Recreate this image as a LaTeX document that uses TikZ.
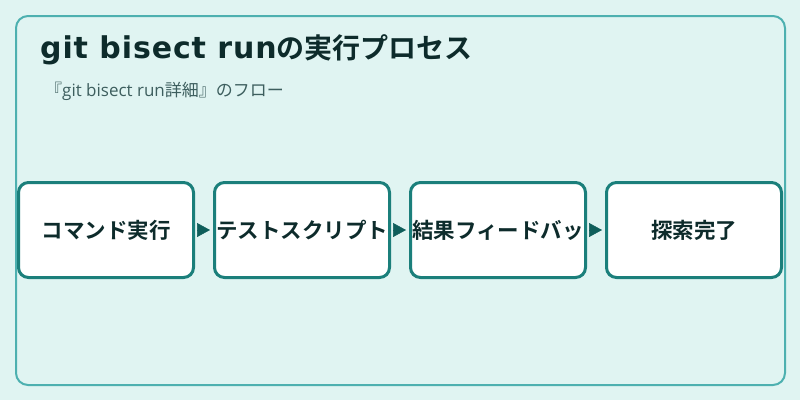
\documentclass[tikz,border=0pt]{standalone}
\usepackage{fontspec}
\setmainfont{Noto Sans CJK JP}[BoldFont={Noto Sans CJK JP Bold}]
\newfontfamily\latinfont{Open Sans}
\newfontfamily\titlelatin{DejaVu Sans}[LetterSpace=3]
\usetikzlibrary{arrows.meta}
\definecolor{bgc}{HTML}{E0F4F2}
\definecolor{outerc}{HTML}{4DB0B0}
\definecolor{boxc}{HTML}{1B7F7B}
\definecolor{arrc}{HTML}{0F5E5B}
\definecolor{titc}{HTML}{0D2B2B}
\definecolor{subc}{HTML}{3D5E5E}
\tikzset{
  stepbox/.style={draw=boxc, line width=3pt, fill=white, rounded corners=10pt,
    minimum width=175pt, minimum height=95pt, inner sep=0pt,
    font=\fontsize{21.5pt}{24pt}\selectfont\bfseries, text=titc},
  flow/.style={draw=arrc, line width=0.5pt, -{Triangle[length=13pt,width=14pt]},
    shorten <=2pt, shorten >=3pt}
}
\begin{document}
\begin{tikzpicture}[x=1pt,y=-1pt]
\useasboundingbox (0,0) rectangle (800,400);
\fill[bgc] (0,0) rectangle (800,400);
\draw[outerc, line width=2pt, rounded corners=12pt] (16,16) rectangle (785,385);
\node[anchor=base west, inner sep=0pt, text=titc, font=\fontsize{28pt}{34pt}\selectfont\bfseries] (title) at (40,58) {{\titlelatin\bfseries\fontsize{30pt}{34pt}\selectfont git bisect run}の実行プロセス};
\node[anchor=base west, inner sep=0pt, text=subc, font=\fontsize{17pt}{20pt}\selectfont] (sub) at (45,96) {『{\latinfont git bisect run}詳細』のフロー};
\node[stepbox] (b1) at (106,230) {コマンド実行};
\node[stepbox] (b2) at (302,230) {テストスクリプト};
\node[stepbox] (b3) at (498,230) {結果フィードバッ};
\node[stepbox] (b4) at (694,230) {探索完了};
\draw[flow] (b1.east) -- (b2.west);
\draw[flow] (b2.east) -- (b3.west);
\draw[flow] (b3.east) -- (b4.west);
\end{tikzpicture}
\end{document}
